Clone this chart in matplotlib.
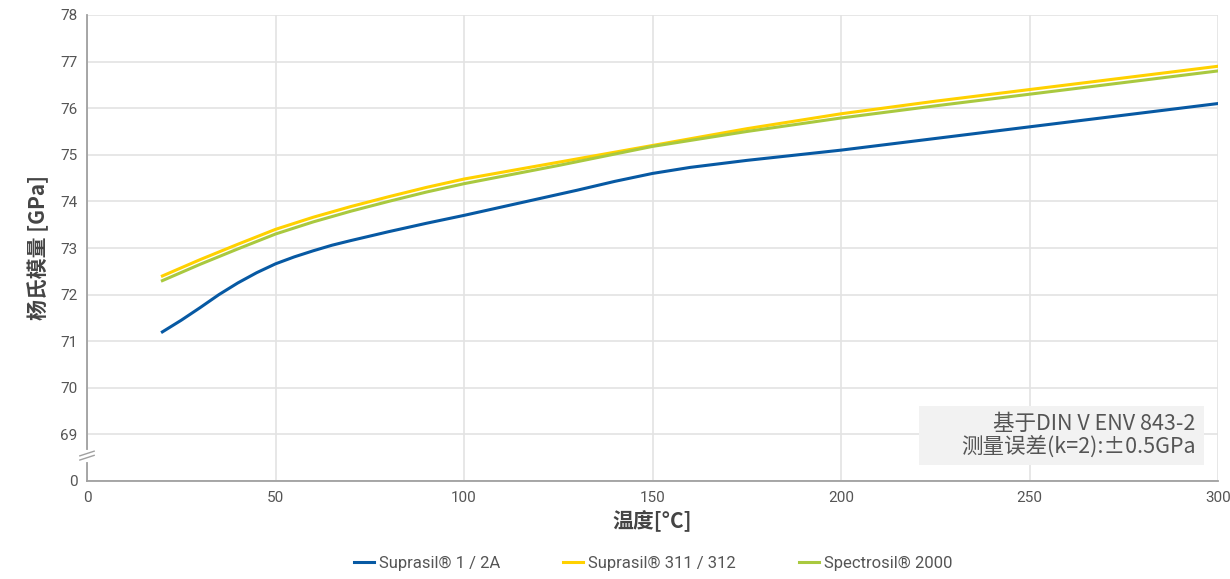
import matplotlib
matplotlib.use("Agg")
import matplotlib.pyplot as plt
from matplotlib.patches import Rectangle

# temperature [°C] and Young's modulus [GPa]
temp_blue = [20, 25, 30, 35, 40, 45, 50, 55, 60, 65, 70, 80, 90, 100, 110, 120, 130,
             140, 150, 160, 175, 200, 225, 250, 275, 300]
suprasil_1 = [71.2, 71.45, 71.72, 72.0, 72.25, 72.47, 72.66, 72.81, 72.94, 73.06, 73.16,
              73.35, 73.53, 73.7, 73.88, 74.06, 74.24, 74.43, 74.6, 74.73, 74.88, 75.1,
              75.35, 75.6, 75.85, 76.1]

temp = [20, 30, 40, 50, 60, 70, 80, 90, 100, 125, 150, 175, 200, 225, 250, 275, 300]
suprasil_311 = [72.4, 72.75, 73.08, 73.4, 73.66, 73.89, 74.1, 74.3, 74.48, 74.84, 75.2,
                75.56, 75.88, 76.15, 76.4, 76.65, 76.9]
spectrosil = [72.3, 72.65, 72.98, 73.3, 73.56, 73.79, 74.0, 74.2, 74.38, 74.77, 75.18,
              75.5, 75.79, 76.05, 76.3, 76.55, 76.8]

series_names = ["Suprasil® 1 / 2A", "Suprasil® 311 / 312", "Spectrosil® 2000"]
colors = ["#0759a3", "#ffd100", "#a9c93f"]

y_ticks = [68, 69, 70, 71, 72, 73, 74, 75, 76, 77, 78]
y_labels = ["0", "69", "70", "71", "72", "73", "74", "75", "76", "77", "78"]
x_ticks = [0, 50, 100, 150, 200, 250, 300]

cjk = ["Noto Sans CJK SC", "DejaVu Sans"]
narrow = ["Roboto", "DejaVu Sans"]
gray = "#555555"

fig = plt.figure(figsize=(12.3, 5.79), dpi=100)
ax = fig.add_axes([87 / 1230, 1 - 481 / 579, (1218 - 87) / 1230, (481 - 15) / 579])

ax.plot(temp_blue, suprasil_1, color=colors[0], lw=2.2, label=series_names[0])
ax.plot(temp, suprasil_311, color=colors[1], lw=2.2, label=series_names[1])
ax.plot(temp, spectrosil, color=colors[2], lw=2.2, label=series_names[2])

ax.set_xlim(0, 300)
ax.set_ylim(68, 78)
ax.set_xticks(x_ticks)
ax.set_yticks(y_ticks)
ax.set_yticklabels(y_labels)
for lab in ax.get_xticklabels() + ax.get_yticklabels():
    lab.set_family(narrow)
    lab.set_fontsize(11)
    lab.set_color(gray)
ax.tick_params(length=0, pad=7)

ax.grid(True, color="#e3e3e3", lw=1.2)
ax.set_axisbelow(True)
for s in ["top", "right"]:
    ax.spines[s].set_visible(False)
for s in ["left", "bottom"]:
    ax.spines[s].set_color("#a0a0a0")
    ax.spines[s].set_linewidth(1.3)

# axis break marks
ax.plot([0.0, 0.0], [68.45, 68.62], color="white", lw=3, clip_on=False, zorder=5)
for dy in [0.0, 0.09]:
    ax.plot([-1.9, 1.9], [68.45 + dy, 68.55 + dy], color="#a0a0a0", lw=1.0,
            clip_on=False, zorder=6)

ax.set_xlabel("温度[°C]", family=cjk, fontsize=15, fontweight="bold", color="#444444", labelpad=4)
ax.set_ylabel("杨氏模量 [GPa]", family=cjk, fontsize=15, fontweight="bold", color="#444444", labelpad=8)

# note box
ax.add_patch(Rectangle((220.8, 68.35), 75.4, 1.25, facecolor="#f2f2f2", edgecolor="none", zorder=2))
ax.text(294, 68.98, "基于DIN V ENV 843-2\n测量误差(k=2):±0.5GPa", family=cjk, fontsize=15.5,
        color=gray, ha="right", va="center", linespacing=1.05, zorder=3)

leg = fig.legend(loc="center", bbox_to_anchor=(0.531, 0.027), ncol=3, frameon=False,
                 handlelength=1.2, handletextpad=0.3, columnspacing=3.8,
                 prop={"family": narrow, "size": 12})
for t in leg.get_texts():
    t.set_color(gray)

fig.savefig("out.png", dpi=100)
